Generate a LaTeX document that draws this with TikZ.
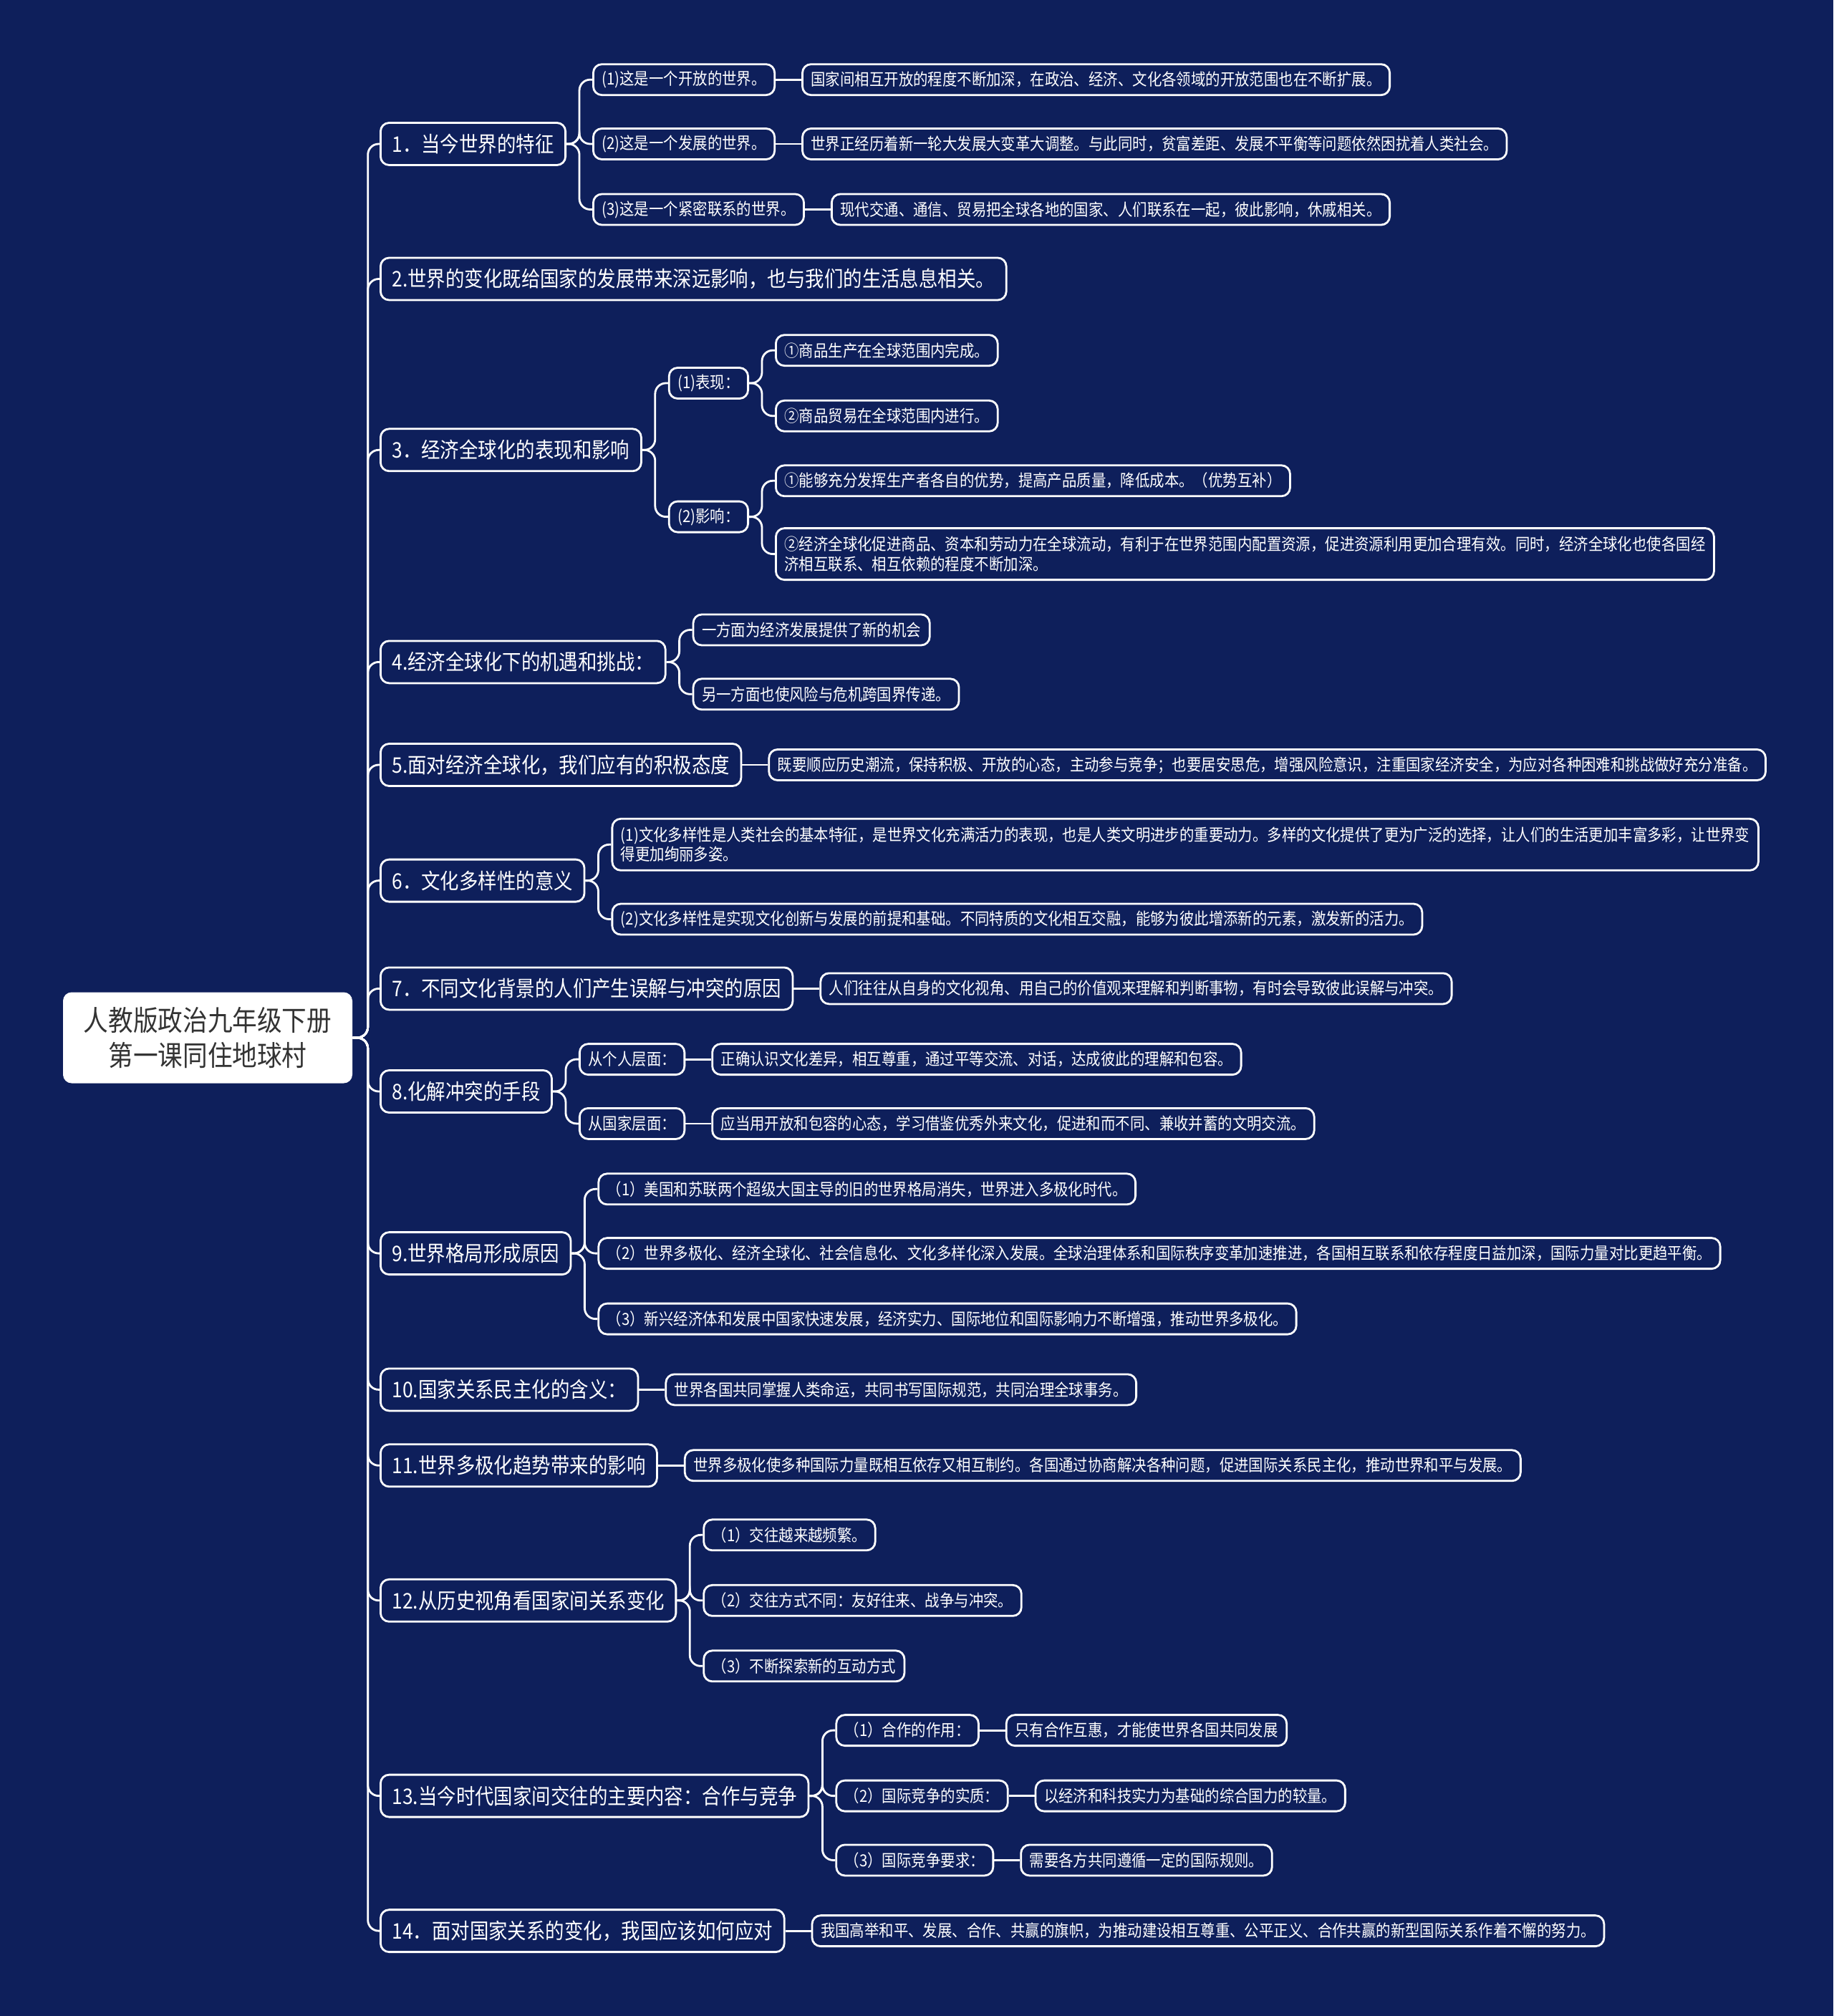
\documentclass[tikz,border=0pt]{standalone}
\usepackage{fontspec}
\setmainfont{Noto Sans CJK SC}[FakeStretch=0.88]
\usetikzlibrary{positioning}
\definecolor{navy}{HTML}{0E1F5B}
\definecolor{rootink}{HTML}{333333}

\tikzset{
  box/.style={draw=white, line width=0.8pt, rounded corners=1.2mm, fill=navy, text=white, inner ysep=0pt, anchor=west},
  root/.style={fill=white, text=rootink, rounded corners=1.2mm, minimum width=4.04cm, minimum height=1.27cm, align=center, font=\fontsize{11.2}{13.8}\selectfont},
  topic/.style={box, font=\fontsize{8.55}{10}\selectfont, minimum height=0.59cm, inner xsep=0.16cm},
  item/.style={box, font=\fontsize{6.6}{7.8}\selectfont, minimum height=0.43cm, inner xsep=0.12cm},
  wide/.style={item, align=left, minimum height=0.72cm},
  link/.style={draw=white, line width=0.8pt, rounded corners=0.15cm},
}

\begin{document}
\begin{tikzpicture}
  \useasboundingbox[fill=navy] (0,0) rectangle (25.6,-28.15);
  % root
  \node[root] (root) at (2.9,-14.49) {人教版政治九年级下册\\第一课同住地球村};
  % topics
  \node[topic] (t1) at (5.3,-2.01) {1．当今世界的特征};
  \node[topic] (t2) at (5.3,-3.895) {2.世界的变化既给国家的发展带来深远影响，也与我们的生活息息相关。};
  \node[topic] (t3) at (5.3,-6.283) {3．经济全球化的表现和影响};
  \node[topic] (t4) at (5.3,-9.244) {4.经济全球化下的机遇和挑战：};
  \node[topic] (t5) at (5.3,-10.68) {5.面对经济全球化，我们应有的积极态度};
  \node[topic] (t6) at (5.3,-12.296) {6．文化多样性的意义};
  \node[topic] (t7) at (5.3,-13.804) {7．不同文化背景的人们产生误解与冲突的原因};
  \node[topic] (t8) at (5.3,-15.24) {8.化解冲突的手段};
  \node[topic] (t9) at (5.3,-17.501) {9.世界格局形成原因};
  \node[topic] (t10) at (5.3,-19.404) {10.国家关系民主化的含义：};
  \node[topic] (t11) at (5.3,-20.463) {11.世界多极化趋势带来的影响};
  \node[topic] (t12) at (5.3,-22.348) {12.从历史视角看国家间关系变化};
  \node[topic] (t13) at (5.3,-25.076) {13.当今时代国家间交往的主要内容：合作与竞争};
  \node[topic] (t14) at (5.3,-26.961) {14．面对国家关系的变化，我国应该如何应对};
  \foreach \i in {1,...,14}
    \draw[link] (root.east) -- ++(0.21,0) |- (t\i.west);

  % 1
  \node[item, right=0.36cm of t1, yshift=0.898cm] (t1a) {(1)这是一个开放的世界。};
  \node[item, right=0.36cm of t1] (t1b) {(2)这是一个发展的世界。};
  \node[item, right=0.36cm of t1, yshift=-0.915cm] (t1c) {(3)这是一个紧密联系的世界。};
  \node[item, right=0.36cm of t1a] (t1a1) {国家间相互开放的程度不断加深，在政治、经济、文化各领域的开放范围也在不断扩展。};
  \node[item, right=0.36cm of t1b] (t1b1) {世界正经历着新一轮大发展大变革大调整。与此同时，贫富差距、发展不平衡等问题依然困扰着人类社会。};
  \node[item, right=0.36cm of t1c] (t1c1) {现代交通、通信、贸易把全球各地的国家、人们联系在一起，彼此影响，休戚相关。};
  \foreach \c in {t1a,t1b,t1c}
    \draw[link] (t1.east) -- ++(0.18,0) |- (\c.west);
  \foreach \c in {t1a,t1b,t1c}
    \draw[link] (\c.east) -- (\c1.west);

  % 3
  \node[item, right=0.36cm of t3, yshift=0.933cm] (t3a) {(1)表现：};
  \node[item, right=0.36cm of t3, yshift=-0.933cm] (t3b) {(2)影响：};
  \node[item, right=0.36cm of t3a, yshift=0.458cm] (t3a1) {①商品生产在全球范围内完成。};
  \node[item, right=0.36cm of t3a, yshift=-0.458cm] (t3a2) {②商品贸易在全球范围内进行。};
  \node[item, right=0.36cm of t3b, yshift=0.503cm] (t3b1) {①能够充分发挥生产者各自的优势，提高产品质量，降低成本。（优势互补）};
  \node[wide, right=0.36cm of t3b, yshift=-0.52cm] (t3b2) {②经济全球化促进商品、资本和劳动力在全球流动，有利于在世界范围内配置资源，促进资源利用更加合理有效。同时，经济全球化也使各国经\\济相互联系、相互依赖的程度不断加深。};
  \foreach \c in {t3a,t3b}
    \draw[link] (t3.east) -- ++(0.18,0) |- (\c.west);
  \foreach \c in {t3a1,t3a2}
    \draw[link] (t3a.east) -- ++(0.18,0) |- (\c.west);
  \foreach \c in {t3b1,t3b2}
    \draw[link] (t3b.east) -- ++(0.18,0) |- (\c.west);

  % 4
  \node[item, right=0.36cm of t4, yshift=0.449cm] (t4a) {一方面为经济发展提供了新的机会};
  \node[item, right=0.36cm of t4, yshift=-0.449cm] (t4b) {另一方面也使风险与危机跨国界传递。};
  \foreach \c in {t4a,t4b}
    \draw[link] (t4.east) -- ++(0.18,0) |- (\c.west);

  % 5
  \node[item, right=0.36cm of t5] (t5a) {既要顺应历史潮流，保持积极、开放的心态，主动参与竞争；也要居安思危，增强风险意识，注重国家经济安全，为应对各种困难和挑战做好充分准备。};
  \draw[link] (t5.east) -- (t5a.west);

  % 6
  \node[wide, right=0.36cm of t6, yshift=0.503cm] (t6a) {(1)文化多样性是人类社会的基本特征，是世界文化充满活力的表现，也是人类文明进步的重要动力。多样的文化提供了更为广泛的选择，让人们的生活更加丰富多彩，让世界变\\得更加绚丽多姿。};
  \node[item, right=0.36cm of t6, yshift=-0.539cm] (t6b) {(2)文化多样性是实现文化创新与发展的前提和基础。不同特质的文化相互交融，能够为彼此增添新的元素，激发新的活力。};
  \foreach \c in {t6a,t6b}
    \draw[link] (t6.east) -- ++(0.18,0) |- (\c.west);

  % 7
  \node[item, right=0.36cm of t7] (t7a) {人们往往从自身的文化视角、用自己的价值观来理解和判断事物，有时会导致彼此误解与冲突。};
  \draw[link] (t7.east) -- (t7a.west);

  % 8
  \node[item, right=0.36cm of t8, yshift=0.449cm] (t8a) {从个人层面：};
  \node[item, right=0.36cm of t8, yshift=-0.449cm] (t8b) {从国家层面：};
  \node[item, right=0.36cm of t8a] (t8a1) {正确认识文化差异，相互尊重，通过平等交流、对话，达成彼此的理解和包容。};
  \node[item, right=0.36cm of t8b] (t8b1) {应当用开放和包容的心态，学习借鉴优秀外来文化，促进和而不同、兼收并蓄的文明交流。};
  \foreach \c in {t8a,t8b}
    \draw[link] (t8.east) -- ++(0.18,0) |- (\c.west);
  \foreach \c in {t8a,t8b}
    \draw[link] (\c.east) -- (\c1.west);

  % 9
  \node[item, right=0.36cm of t9, yshift=0.898cm] (t9a) {（1）美国和苏联两个超级大国主导的旧的世界格局消失，世界进入多极化时代。};
  \node[item, right=0.36cm of t9] (t9b) {（2）世界多极化、经济全球化、社会信息化、文化多样化深入发展。全球治理体系和国际秩序变革加速推进，各国相互联系和依存程度日益加深，国际力量对比更趋平衡。};
  \node[item, right=0.36cm of t9, yshift=-0.915cm] (t9c) {（3）新兴经济体和发展中国家快速发展，经济实力、国际地位和国际影响力不断增强，推动世界多极化。};
  \foreach \c in {t9a,t9b,t9c}
    \draw[link] (t9.east) -- ++(0.18,0) |- (\c.west);

  % 10, 11
  \node[item, right=0.36cm of t10] (t10a) {世界各国共同掌握人类命运，共同书写国际规范，共同治理全球事务。};
  \draw[link] (t10.east) -- (t10a.west);
  \node[item, right=0.36cm of t11] (t11a) {世界多极化使多种国际力量既相互依存又相互制约。各国通过协商解决各种问题，促进国际关系民主化，推动世界和平与发展。};
  \draw[link] (t11.east) -- (t11a.west);

  % 12
  \node[item, right=0.36cm of t12, yshift=0.915cm] (t12a) {（1）交往越来越频繁。};
  \node[item, right=0.36cm of t12] (t12b) {（2）交往方式不同：友好往来、战争与冲突。};
  \node[item, right=0.36cm of t12, yshift=-0.915cm] (t12c) {（3）不断探索新的互动方式};
  \foreach \c in {t12a,t12b,t12c}
    \draw[link] (t12.east) -- ++(0.18,0) |- (\c.west);

  % 13
  \node[item, right=0.36cm of t13, yshift=0.915cm] (t13a) {（1）合作的作用：};
  \node[item, right=0.36cm of t13] (t13b) {（2）国际竞争的实质：};
  \node[item, right=0.36cm of t13, yshift=-0.898cm] (t13c) {（3）国际竞争要求：};
  \node[item, right=0.36cm of t13a] (t13a1) {只有合作互惠，才能使世界各国共同发展};
  \node[item, right=0.36cm of t13b] (t13b1) {以经济和科技实力为基础的综合国力的较量。};
  \node[item, right=0.36cm of t13c] (t13c1) {需要各方共同遵循一定的国际规则。};
  \foreach \c in {t13a,t13b,t13c}
    \draw[link] (t13.east) -- ++(0.18,0) |- (\c.west);
  \foreach \c in {t13a,t13b,t13c}
    \draw[link] (\c.east) -- (\c1.west);

  % 14
  \node[item, right=0.36cm of t14] (t14a) {我国高举和平、发展、合作、共赢的旗帜，为推动建设相互尊重、公平正义、合作共赢的新型国际关系作着不懈的努力。};
  \draw[link] (t14.east) -- (t14a.west);
\end{tikzpicture}
\end{document}
